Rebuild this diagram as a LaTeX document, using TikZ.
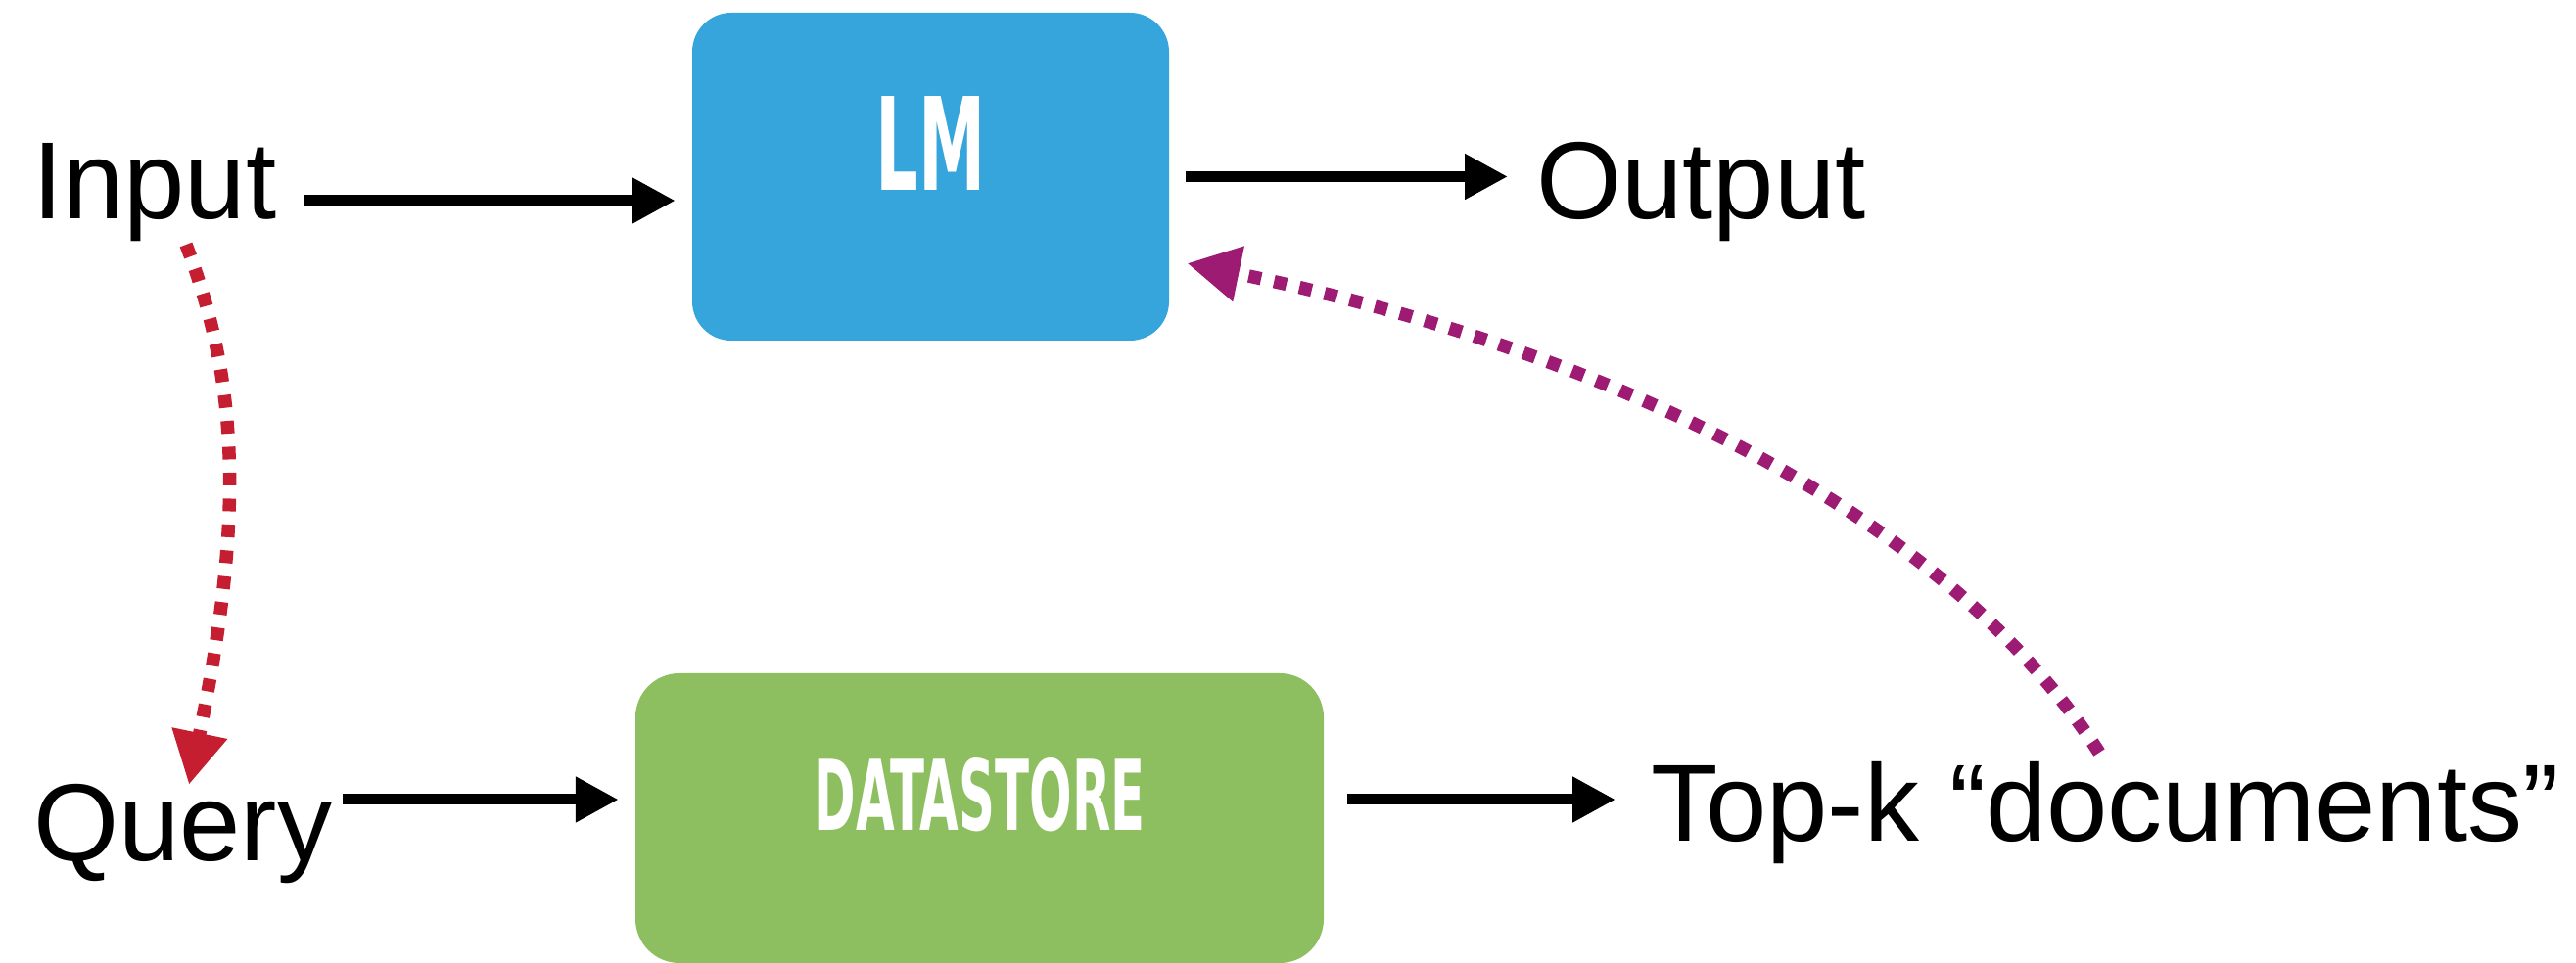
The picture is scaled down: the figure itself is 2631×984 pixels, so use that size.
\documentclass[tikz,border=0pt]{standalone}
\usepackage{fontspec}
\setmainfont{Liberation Sans}
\newfontfamily\boxfont{DejaVu Sans Condensed Bold}
\usetikzlibrary{arrows.meta,calc}
\definecolor{lmblue}{HTML}{35A5DB}
\definecolor{dsgreen}{HTML}{8DBF60}
\definecolor{qred}{HTML}{C41E30}
\definecolor{dpurple}{HTML}{9E1B74}
\tikzset{
  lbl/.style={inner sep=0pt, anchor=base west, font=\fontsize{112}{130}\selectfont},
  boxnode/.style={inner sep=0pt, text=white},
  blk/.style={line width=11pt, -{Triangle[length=44pt,width=44pt]}},
  dotarrow/.style={line width=13.5pt, dash pattern=on 13pt off 13.5pt, -{Triangle[length=54pt,width=54pt]}},
}
\begin{document}
\begin{tikzpicture}[x=1pt,y=1pt]
\useasboundingbox (0,0) rectangle (2631,984);
% boxes
\node[boxnode, fill=lmblue, rounded corners=40pt, minimum width=487pt, minimum height=335pt, text depth=67pt] (lm) at (950.5,803.5) {\resizebox{112pt}{96pt}{\boxfont LM}};
\node[boxnode, fill=dsgreen, rounded corners=45pt, minimum width=703pt, minimum height=296pt, text depth=49pt] (ds) at (1000.5,148) {\resizebox{338pt}{74pt}{\boxfont DATASTORE}};
% labels
\node[lbl] (in) at (33,760) {Input};
\node[lbl] (out) at (1569,760) {Output};
\node[lbl] (q) at (34,104) {Query};
\node[lbl] (tk) at (1686,124) {Top-k “documents”};
% black arrows
\draw[blk] ($(in.base west)+(278,19)$) -- ($(lm.west |- in.base west)+(-17,19)$);
\draw[blk] ($(lm.east)+(17,0)$) -- ($(out.base west |- lm.east)+(-29,0)$);
\draw[blk] ($(q.base west)+(316,63)$) -- ($(ds.west |- q.base west)+(-17,63)$);
\draw[blk] ($(ds.east)+(24,19)$) -- ($(tk.base west |- ds.east)+(-36,19)$);
% dotted arrows
\draw[dotarrow, qred] ($(in.base west)+(157,-26)$) .. controls ($(in.base west)+(214,-174)$) and ($(q.base west)+(213,340)$) .. ($(q.base west)+(159,78)$);
\draw[dotarrow, dpurple] ($(tk.base west)+(458,91)$) .. controls ($(tk.base west)+(309,322)$) and ($(lm.east)+(475,-182.5)$) .. ($(lm.east)+(18,-88.5)$);
\end{tikzpicture}
\end{document}
